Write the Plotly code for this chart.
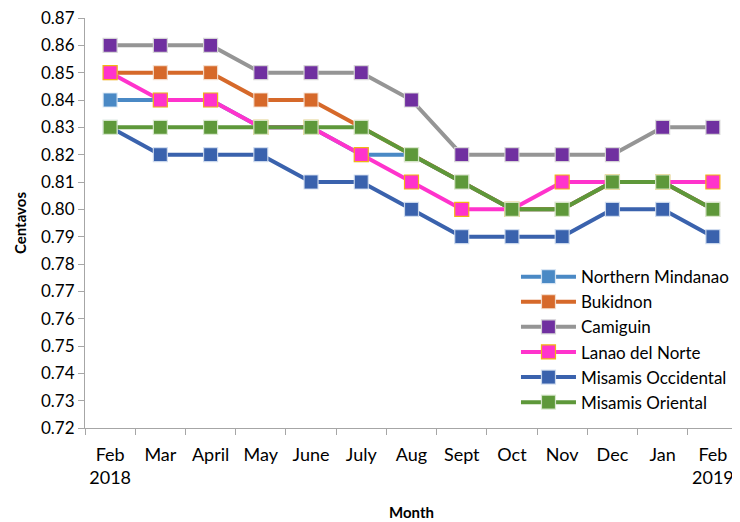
import plotly.graph_objects as go

months = ["Feb<br>2018", "Mar", "April", "May", "June", "July", "Aug", "Sept",
          "Oct", "Nov", "Dec", "Jan", "Feb<br>2019"]

northern_mindanao = [0.84, 0.84, 0.84, 0.83, 0.83, 0.82, 0.82, 0.81, 0.80, 0.80, 0.81, 0.81, 0.80]
bukidnon = [0.85, 0.85, 0.85, 0.84, 0.84, 0.83, 0.82, 0.81, 0.80, 0.80, 0.81, 0.81, 0.80]
camiguin = [0.86, 0.86, 0.86, 0.85, 0.85, 0.85, 0.84, 0.82, 0.82, 0.82, 0.82, 0.83, 0.83]
lanao_del_norte = [0.85, 0.84, 0.84, 0.83, 0.83, 0.82, 0.81, 0.80, 0.80, 0.81, 0.81, 0.81, 0.81]
misamis_occidental = [0.83, 0.82, 0.82, 0.82, 0.81, 0.81, 0.80, 0.79, 0.79, 0.79, 0.80, 0.80, 0.79]
misamis_oriental = [0.83, 0.83, 0.83, 0.83, 0.83, 0.83, 0.82, 0.81, 0.80, 0.80, 0.81, 0.81, 0.80]

y_ticks = [round(0.72 + 0.01 * i, 2) for i in range(16)]

series = [
    ("Northern Mindanao", northern_mindanao, "#4A89C5", "#4A89C5", "rgba(220,232,245,0.9)"),
    ("Bukidnon", bukidnon, "#D6692A", "#D6692A", "rgba(245,225,210,0.9)"),
    ("Camiguin", camiguin, "#959595", "#7030A0", "rgba(215,215,215,0.95)"),
    ("Lanao del Norte", lanao_del_norte, "#FF33CC", "#FF33CC", "#F2B315"),
    ("Misamis Occidental", misamis_occidental, "#3A62AD", "#3A62AD", "rgba(210,222,240,0.9)"),
    ("Misamis Oriental", misamis_oriental, "#5E983A", "#5E983A", "rgba(220,235,210,0.9)"),
]

fig = go.Figure()
for i, (name, vals, lc, mc, mlc) in enumerate(series):
    fig.add_trace(go.Scatter(
        x=months, y=vals, name=name, mode="lines+markers",
        legendgroup=f"g{i}",
        line=dict(color=lc, width=4),
        marker=dict(symbol="square", size=14, color=mc, line=dict(color=mlc, width=1.2)),
    ))

font_family = "Lato, 'Open Sans', sans-serif"

# the page body has an 8px margin, so the figure is drawn 8px in from the window edge
fig.update_layout(
    width=732, height=514,
    margin=dict(l=77, r=2, t=10, b=94),
    paper_bgcolor="white", plot_bgcolor="white",
    font=dict(family=font_family, color="#000000"),
    showlegend=True,
    legend=dict(
        x=0.66, y=0.412, xanchor="left", yanchor="top",
        font=dict(size=17, family=font_family),
        bgcolor="rgba(0,0,0,0)", borderwidth=0,
        traceorder="grouped", tracegroupgap=0, itemwidth=55,
    ),
    xaxis=dict(
        type="category", range=[-0.5, 12.5], automargin=False,
        showline=True, linecolor="#A6A6A6", linewidth=1,
        ticks="outside", tickson="boundaries", ticklen=6, tickcolor="#A6A6A6",
        showgrid=False, zeroline=False, tickangle=0,
        ticklabelstandoff=10, ticklabeloverflow="allow",
        tickfont=dict(size=18, family=font_family),
        title=dict(text="<b>Month</b>", font=dict(size=15, family=font_family), standoff=20),
    ),
    yaxis=dict(
        range=[0.72, 0.87], tickvals=y_ticks, tickformat=".2f", automargin=False,
        showline=True, linecolor="#A6A6A6", linewidth=1,
        ticks="outside", ticklen=6, tickcolor="#A6A6A6",
        showgrid=False, zeroline=False, ticklabeloverflow="allow",
        tickfont=dict(size=17, family=font_family),
        title=dict(text="<b>Centavos</b>", font=dict(size=15, family=font_family), standoff=10),
    ),
)

fig.write_html("out.html")
